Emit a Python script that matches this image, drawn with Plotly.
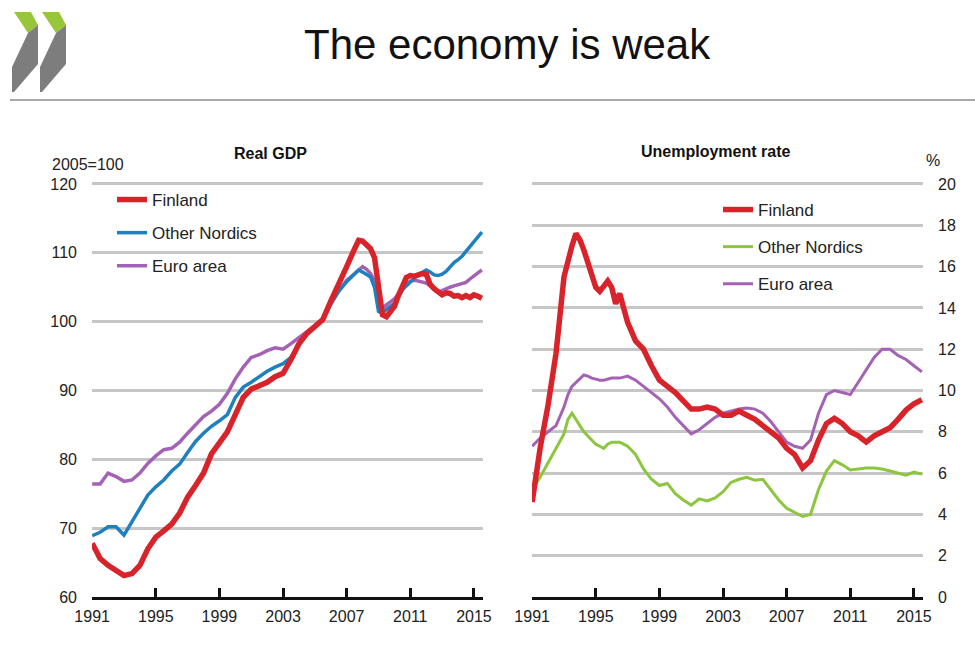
import plotly.graph_objects as go

# ---------------- Data ----------------
gdp_years = [1991.0, 1991.5, 1992.0, 1992.5, 1993.0, 1993.5, 1994.0, 1994.5, 1995.0, 1995.5,
             1996.0, 1996.5, 1997.0, 1997.5, 1998.0, 1998.5, 1999.0, 1999.5, 2000.0, 2000.5,
             2001.0, 2001.5, 2002.0, 2002.5, 2003.0, 2003.5, 2004.0, 2004.5, 2005.0, 2005.5,
             2006.0, 2006.5, 2007.0, 2007.5,
             2007.75, 2008.0, 2008.25, 2008.5, 2008.75, 2009.0, 2009.25, 2009.5, 2009.75,
             2010.0, 2010.25, 2010.5, 2010.75, 2011.0, 2011.25, 2011.5, 2011.75,
             2012.0, 2012.25, 2012.5, 2012.75, 2013.0, 2013.25, 2013.5, 2013.75,
             2014.0, 2014.25, 2014.5, 2014.75, 2015.0, 2015.25, 2015.5]

gdp_finland = [67.8, 65.6, 64.6, 63.9, 63.1, 63.4, 64.6, 67.0, 68.7, 69.6,
               70.6, 72.2, 74.5, 76.2, 78.0, 80.8, 82.5, 84.0, 86.5, 89.0,
               90.2, 90.6, 91.2, 92.0, 92.5, 94.5, 96.8, 98.3, 99.4, 100.3,
               103.0, 105.3, 108.0, 110.6,
               111.8, 111.7, 111.2, 110.6, 109.3, 105.5, 101.0, 100.7, 101.5,
               102.2, 103.8, 105.0, 106.4, 106.7, 106.6, 106.8, 107.0,
               106.9, 105.4, 104.8, 104.3, 103.9, 104.2, 104.1, 103.7,
               103.8, 103.5, 103.8, 103.5, 103.9, 103.7, 103.4]

gdp_nordics = [68.9, 69.4, 70.2, 70.2, 69.0, 71.0, 72.9, 74.8, 76.0, 77.0,
               78.3, 79.3, 81.0, 82.6, 83.8, 84.8, 85.6, 86.5, 89.0, 90.5,
               91.2, 92.0, 92.8, 93.4, 93.9, 94.8, 96.8, 98.2, 99.3, 100.4,
               102.6, 104.4, 105.8, 107.0,
               107.5, 107.2, 106.8, 106.5, 105.0, 101.5, 101.2, 101.8, 102.2,
               102.6, 103.6, 104.6, 105.2, 105.8, 106.3, 106.8, 107.2,
               107.5, 107.2, 106.8, 106.7, 106.9, 107.3, 108.0, 108.6,
               109.0, 109.5, 110.2, 110.9, 111.6, 112.3, 113.0]

gdp_euro = [76.4, 76.4, 78.0, 77.5, 76.8, 77.0, 78.0, 79.4, 80.5, 81.4,
            81.6, 82.5, 83.8, 85.0, 86.2, 87.0, 88.0, 89.6, 91.7, 93.4,
            94.8, 95.2, 95.8, 96.2, 96.0, 96.8, 97.7, 98.6, 99.4, 100.3,
            102.5, 104.5, 106.0, 107.0,
            107.6, 108.0, 107.6, 107.0, 106.0, 103.5, 102.0, 102.4, 102.8,
            103.3, 104.0, 104.8, 105.5, 105.9, 106.0, 105.9, 105.8,
            105.6, 105.2, 104.7, 104.3, 104.5, 104.8, 105.0, 105.2,
            105.4, 105.5, 105.7, 106.2, 106.7, 107.1, 107.5]

un_years = [1991.0, 1991.5, 1992.0, 1992.5,
            1993.0, 1993.25, 1993.5, 1993.75, 1994.0, 1994.25, 1994.5, 1994.75,
            1995.0, 1995.25, 1995.5, 1995.75, 1996.0, 1996.25, 1996.5, 1996.75, 1997.0,
            1997.5, 1998.0, 1998.5, 1999.0, 1999.5, 2000.0, 2000.5, 2001.0, 2001.5,
            2002.0, 2002.5, 2003.0, 2003.5, 2004.0, 2004.5, 2005.0, 2005.5, 2006.0,
            2006.5, 2007.0, 2007.5, 2008.0, 2008.5, 2009.0, 2009.5, 2010.0, 2010.5,
            2011.0, 2011.5, 2012.0, 2012.5, 2013.0, 2013.5, 2014.0, 2014.5, 2015.0, 2015.5]

un_finland = [4.6, 7.2, 9.3, 11.8,
              15.5, 16.4, 17.0, 17.6, 17.3, 16.8, 16.2, 15.5,
              15.0, 14.8, 15.1, 15.3, 15.0, 14.2, 14.7, 14.0, 13.3,
              12.4, 12.0, 11.2, 10.5, 10.2, 9.9, 9.5, 9.1, 9.1,
              9.2, 9.1, 8.8, 8.8, 9.0, 8.8, 8.6, 8.3, 8.0,
              7.7, 7.2, 6.9, 6.25, 6.6, 7.6, 8.4, 8.65, 8.4,
              8.0, 7.8, 7.5, 7.8, 8.0, 8.2, 8.6, 9.05, 9.35, 9.55]

un_nordics = [5.2, 5.8, 6.5, 7.2,
              7.9, 8.6, 8.9, 8.6, 8.3, 8.0, 7.8, 7.6,
              7.4, 7.3, 7.2, 7.4, 7.5, 7.5, 7.5, 7.4, 7.3,
              6.9, 6.2, 5.7, 5.4, 5.5, 5.0, 4.7, 4.45, 4.75,
              4.65, 4.8, 5.1, 5.55, 5.7, 5.8, 5.65, 5.7, 5.2,
              4.7, 4.3, 4.1, 3.9, 4.0, 5.2, 6.1, 6.6, 6.4,
              6.15, 6.2, 6.25, 6.25, 6.2, 6.1, 6.0, 5.9, 6.05, 5.95]

un_euro = [7.3, 7.7, 8.0, 8.3,
           9.2, 9.8, 10.2, 10.4, 10.6, 10.75, 10.7, 10.6,
           10.55, 10.5, 10.5, 10.55, 10.6, 10.6, 10.6, 10.65, 10.7,
           10.5, 10.2, 9.9, 9.6, 9.2, 8.7, 8.3, 7.9, 8.1,
           8.4, 8.7, 8.9, 9.0, 9.1, 9.15, 9.1, 8.9, 8.5,
           8.0, 7.5, 7.3, 7.2, 7.6, 8.9, 9.8, 10.0, 9.9,
           9.8, 10.4, 11.0, 11.6, 12.0, 12.0, 11.7, 11.5, 11.2, 10.9]

year_ticks = [1991, 1995, 1999, 2003, 2007, 2011, 2015]
gdp_ticks = [60, 70, 80, 90, 100, 110, 120]
un_ticks = [0, 2, 4, 6, 8, 10, 12, 14, 16, 18, 20]

RED = "#d9232b"
BLUE = "#1f80c0"
PURPLE = "#a462b4"
GREEN = "#8cc63f"
FONT = "Liberation Sans, Arial, sans-serif"
W, H = 975, 650


def px(x):
    return x / W


def py(y):
    return 1 - y / H


fig = go.Figure()

# GDP traces (drawn so Finland ends on top)
fig.add_trace(go.Scatter(x=gdp_years, y=gdp_euro, name="Euro area", mode="lines",
                         line=dict(color=PURPLE, width=3.5), xaxis="x", yaxis="y",
                         legend="legend", legendgroup="g3", legendrank=3))
fig.add_trace(go.Scatter(x=gdp_years, y=gdp_nordics, name="Other Nordics", mode="lines",
                         line=dict(color=BLUE, width=3.5), xaxis="x", yaxis="y",
                         legend="legend", legendgroup="g2", legendrank=2))
fig.add_trace(go.Scatter(x=gdp_years, y=gdp_finland, name="Finland", mode="lines",
                         line=dict(color=RED, width=5.5), xaxis="x", yaxis="y",
                         legend="legend", legendgroup="g1", legendrank=1))

# Unemployment traces
fig.add_trace(go.Scatter(x=un_years, y=un_euro, name="Euro area", mode="lines",
                         line=dict(color=PURPLE, width=3), xaxis="x2", yaxis="y2",
                         legend="legend2", legendgroup="u3", legendrank=3))
fig.add_trace(go.Scatter(x=un_years, y=un_nordics, name="Other Nordics", mode="lines",
                         line=dict(color=GREEN, width=3), xaxis="x2", yaxis="y2",
                         legend="legend2", legendgroup="u2", legendrank=2))
fig.add_trace(go.Scatter(x=un_years, y=un_finland, name="Finland", mode="lines",
                         line=dict(color=RED, width=5.5), xaxis="x2", yaxis="y2",
                         legend="legend2", legendgroup="u1", legendrank=1))

ydom = [py(597), py(184) + (0.5 / 60) * (597 - 184) / H]

xcommon = dict(range=[1990.99, 2015.57], tickvals=year_ticks, ticktext=[str(t) for t in year_ticks],
               showgrid=False, zeroline=False, showline=True, linecolor="#111", linewidth=3,
               ticks="inside", ticklen=9, tickwidth=2.5, tickcolor="#111",
               tickfont=dict(family=FONT, size=16, color="#222"), ticklabelstandoff=3,
               fixedrange=True, automargin=False)

ycommon = dict(showgrid=True, gridcolor="#c6c6c6", gridwidth=2.5, zeroline=False,
               showline=False, ticks="", tickfont=dict(family=FONT, size=16, color="#222"),
               ticklabelstandoff=14, domain=ydom, fixedrange=True, automargin=False)

fig.update_layout(
    template="none",
    width=W, height=H,
    margin=dict(l=0, r=0, t=0, b=0, pad=0, autoexpand=False),
    paper_bgcolor="white", plot_bgcolor="white",
    showlegend=True,
    xaxis=dict(domain=[px(92), px(483)], anchor="y", **xcommon),
    yaxis=dict(range=[60, 120.5], tickvals=gdp_ticks, anchor="x", side="left", **ycommon),
    xaxis2=dict(domain=[px(532), px(923)], anchor="y2", **xcommon),
    yaxis2=dict(range=[0, 20 + 20 * 0.5 / 60], tickvals=un_ticks, anchor="x2", side="right", **ycommon),
    legend=dict(x=px(112), y=py(182), xanchor="left", yanchor="top",
                bgcolor="rgba(0,0,0,0)", traceorder="grouped", tracegroupgap=8,
                font=dict(family=FONT, size=17, color="#222"), itemwidth=30),
    legend2=dict(x=px(718), y=py(192), xanchor="left", yanchor="top",
                 bgcolor="rgba(0,0,0,0)", traceorder="grouped", tracegroupgap=12,
                 font=dict(family=FONT, size=17, color="#222"), itemwidth=30),
)

annotations = [
    dict(text="The economy is weak", x=px(508), y=py(44), xref="paper", yref="paper",
         showarrow=False, font=dict(family=FONT, size=42, color="#111"),
         xanchor="center", yanchor="middle"),
    dict(text="<b>Real GDP</b>", x=px(270), y=py(153), xref="paper", yref="paper",
         showarrow=False, font=dict(family=FONT, size=16, color="#111"),
         xanchor="center", yanchor="middle"),
    dict(text="<b>Unemployment rate</b>", x=px(715), y=py(152), xref="paper", yref="paper",
         showarrow=False, font=dict(family=FONT, size=16, color="#111"),
         xanchor="center", yanchor="middle"),
    dict(text="2005=100", x=px(88), y=py(164), xref="paper", yref="paper",
         showarrow=False, font=dict(family=FONT, size=16, color="#222"),
         xanchor="center", yanchor="middle"),
    dict(text="%", x=px(933), y=py(161), xref="paper", yref="paper",
         showarrow=False, font=dict(family=FONT, size=16, color="#222"),
         xanchor="center", yanchor="middle"),
]
fig.update_layout(annotations=annotations)


def path(points):
    s = "M " + " L ".join(f"{px(x):.5f},{py(y):.5f}" for x, y in points) + " Z"
    return s


shapes = [dict(type="line", xref="paper", yref="paper", x0=px(10), x1=1, y0=py(100), y1=py(100),
               line=dict(color="#a8a8a8", width=2))]
for off in (0, 28):
    green = [(14 + off, 12), (31 + off, 12), (38 + off, 25), (28 + off, 33)]
    gray = [(28 + off, 33), (38 + off, 25), (38 + off, 64), (14 + off, 92), (12 + off, 92), (12 + off, 67)]
    shapes.append(dict(type="path", xref="paper", yref="paper", path=path(green),
                       fillcolor="#98c63a", line=dict(width=0)))
    shapes.append(dict(type="path", xref="paper", yref="paper", path=path(gray),
                       fillcolor="#7d7d7d", line=dict(width=0)))
fig.update_layout(shapes=shapes)

fig.write_html("out.html")
